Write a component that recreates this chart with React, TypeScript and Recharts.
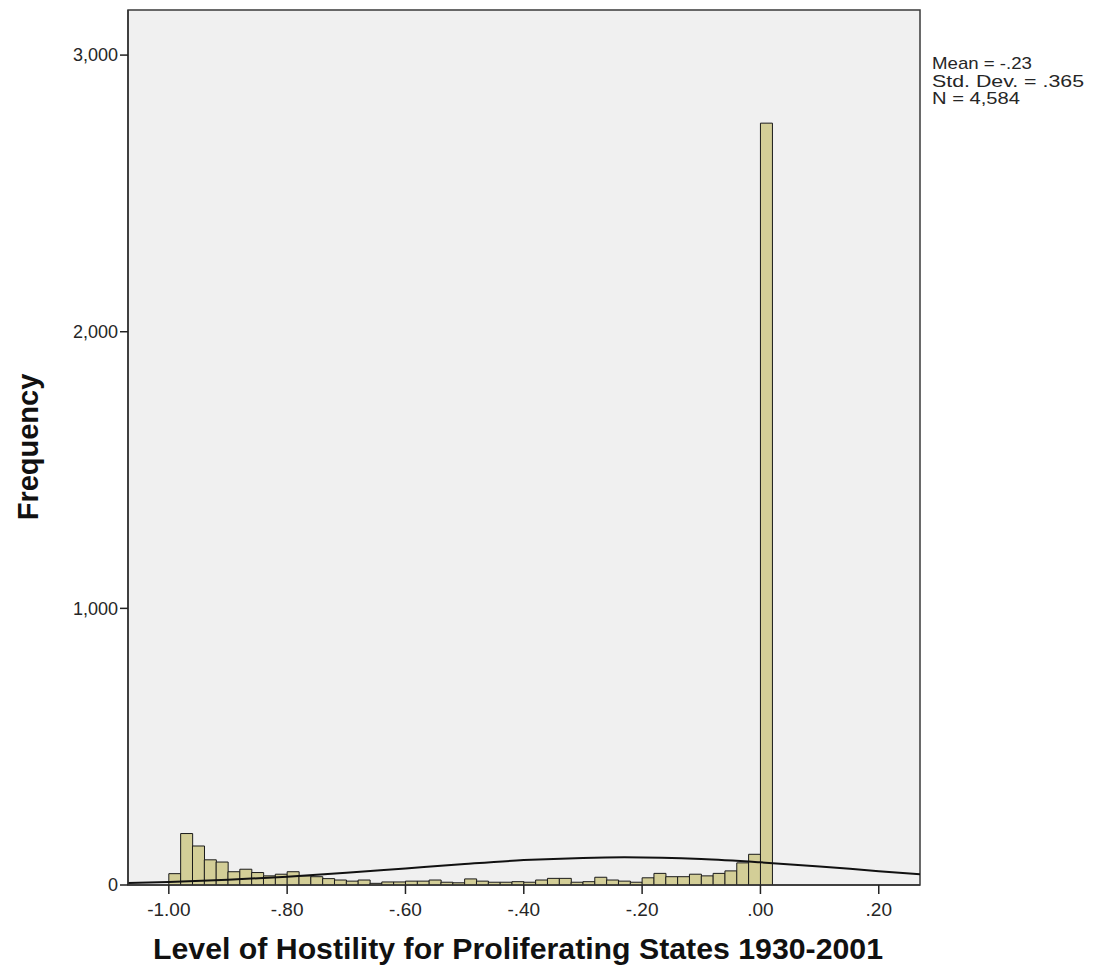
import React from 'react';
import { ComposedChart, Bar, Line, XAxis, YAxis, CartesianGrid, ReferenceArea } from 'recharts';

// Histogram bins (lower edge of each 0.02-wide bin)
const binStarts = [
  -1.0, -0.98, -0.96, -0.94, -0.92, -0.9, -0.88, -0.86, -0.84, -0.82,
  -0.8, -0.78, -0.76, -0.74, -0.72, -0.7, -0.68, -0.66, -0.64, -0.62,
  -0.6, -0.58, -0.56, -0.54, -0.52, -0.5, -0.48, -0.46, -0.44, -0.42,
  -0.4, -0.38, -0.36, -0.34, -0.32, -0.3, -0.28, -0.26, -0.24, -0.22,
  -0.2, -0.18, -0.16, -0.14, -0.12, -0.1, -0.08, -0.06, -0.04, -0.02,
  0.0,
];
const frequencies = [
  41, 186, 141, 91, 83, 48, 57, 45, 33, 39,
  48, 33, 30, 23, 18, 14, 18, 6, 11, 11,
  14, 14, 18, 10, 8, 22, 14, 10, 10, 12,
  10, 18, 24, 24, 10, 12, 28, 18, 14, 10,
  26, 42, 30, 30, 39, 33, 42, 51, 80, 111,
  2754,
];
const BIN_WIDTH = 0.02;

// Normal curve
const curveX = [-1.069, -1.0, -0.9, -0.8, -0.7, -0.6, -0.5, -0.4, -0.3, -0.23, -0.1, 0.0, 0.1, 0.2, 0.2697];
const curveY = [7, 11, 19, 30, 44, 60, 76, 90, 98, 100, 94, 82, 67, 50, 39];

const xTicks = [-1.0, -0.8, -0.6, -0.4, -0.2, 0.0, 0.2];
const yTicks = [0, 1000, 2000, 3000];
const statsLines = ['Mean = -.23', 'Std. Dev. = .365', 'N = 4,584'];
const statsWidths = [100, 152, 88];
const xTitle = 'Level of Hostility for Proliferating States 1930-2001';
const yTitle = 'Frequency';

const X_MIN = -1.069;
const X_MAX = 0.2697;
const Y_MAX = 3163;

const FONT = '"Liberation Sans", Arial, sans-serif';

const fmtX = (v: number) => {
  const s = Math.abs(v).toFixed(2);
  const t = s.startsWith('0') ? s.slice(1) : s;
  return (v < -1e-9 ? '-' : '') + t;
};
const fmtY = (v: number) => v.toLocaleString('en-US');

export default function App() {
  const data = binStarts.map((s, i) => ({ x: Math.round((s + BIN_WIDTH / 2) * 1000) / 1000, count: frequencies[i] }));
  const curve = curveX.map((x, i) => ({ x, y: curveY[i] }));
  const W = 1086;
  const H = 962;
  return (
    <div style={{ position: 'relative', width: W, height: H, background: '#fff' }}>
      <ComposedChart
        width={W}
        height={H}
        data={data}
        margin={{ top: 2, right: 174, bottom: 25, left: 30 }}
        barCategoryGap={0}
        barGap={0}
      >
        <CartesianGrid horizontal={false} vertical={false} fill="#f0f0f0" />
        <XAxis
          xAxisId="bars"
          dataKey="x"
          type="number"
          domain={[X_MIN, X_MAX]}
          allowDataOverflow
          ticks={xTicks}
          tickFormatter={fmtX}
          height={60}
          tickSize={9}
          tickMargin={9}
          axisLine={{ stroke: '#333', strokeWidth: 1.5 }}
          tickLine={{ stroke: '#222', strokeWidth: 1.5 }}
          tick={{ fontSize: 19, fill: '#262626', fontFamily: FONT }}
          interval={0}
        />
        <XAxis xAxisId="curve" dataKey="x" type="number" domain={[X_MIN, X_MAX]} allowDataOverflow hide />
        <YAxis
          type="number"
          domain={[0, Y_MAX]}
          allowDataOverflow
          ticks={yTicks}
          tickFormatter={fmtY}
          width={90}
          tickSize={8}
          tickMargin={2}
          axisLine={{ stroke: '#333', strokeWidth: 1.5 }}
          tickLine={{ stroke: '#222', strokeWidth: 1.5 }}
          tick={{ fontSize: 18, fill: '#262626', fontFamily: FONT }}
          interval={0}
        />
        <Bar
          xAxisId="bars"
          dataKey="count"
          fill="#d3ce97"
          stroke="#1a1a1a"
          strokeWidth={1}
          isAnimationActive={false}
        />
        <Line
          xAxisId="curve"
          data={curve}
          dataKey="y"
          type="monotone"
          dot={false}
          activeDot={false}
          stroke="#111"
          strokeWidth={2}
          isAnimationActive={false}
        />
        <ReferenceArea
          xAxisId="bars"
          x1={X_MIN}
          x2={X_MAX}
          y1={0}
          y2={Y_MAX}
          fill="none"
          stroke="#3a3a3a"
          strokeWidth={1.5}
          ifOverflow="visible"
        />
      </ComposedChart>
      <svg
        width={W}
        height={H}
        style={{ position: 'absolute', left: 0, top: 0, pointerEvents: 'none' }}
      >
        {statsLines.map((s, i) => (
          <text
            key={s}
            x={924}
            y={61 + i * 17.5}
            fontSize={17}
            fill="#262626"
            fontFamily={FONT}
            textLength={statsWidths[i]}
            lengthAdjust="spacingAndGlyphs"
          >
            {s}
          </text>
        ))}
        <text
          x={510}
          y={951}
          textAnchor="middle"
          fontSize={29}
          fontWeight="bold"
          fill="#111"
          fontFamily={FONT}
          textLength={730}
          lengthAdjust="spacingAndGlyphs"
        >
          {xTitle}
        </text>
        <text
          transform="translate(30, 439) rotate(-90)"
          textAnchor="middle"
          fontSize={29}
          fontWeight="bold"
          fill="#111"
          fontFamily={FONT}
        >
          {yTitle}
        </text>
      </svg>
    </div>
  );
}
